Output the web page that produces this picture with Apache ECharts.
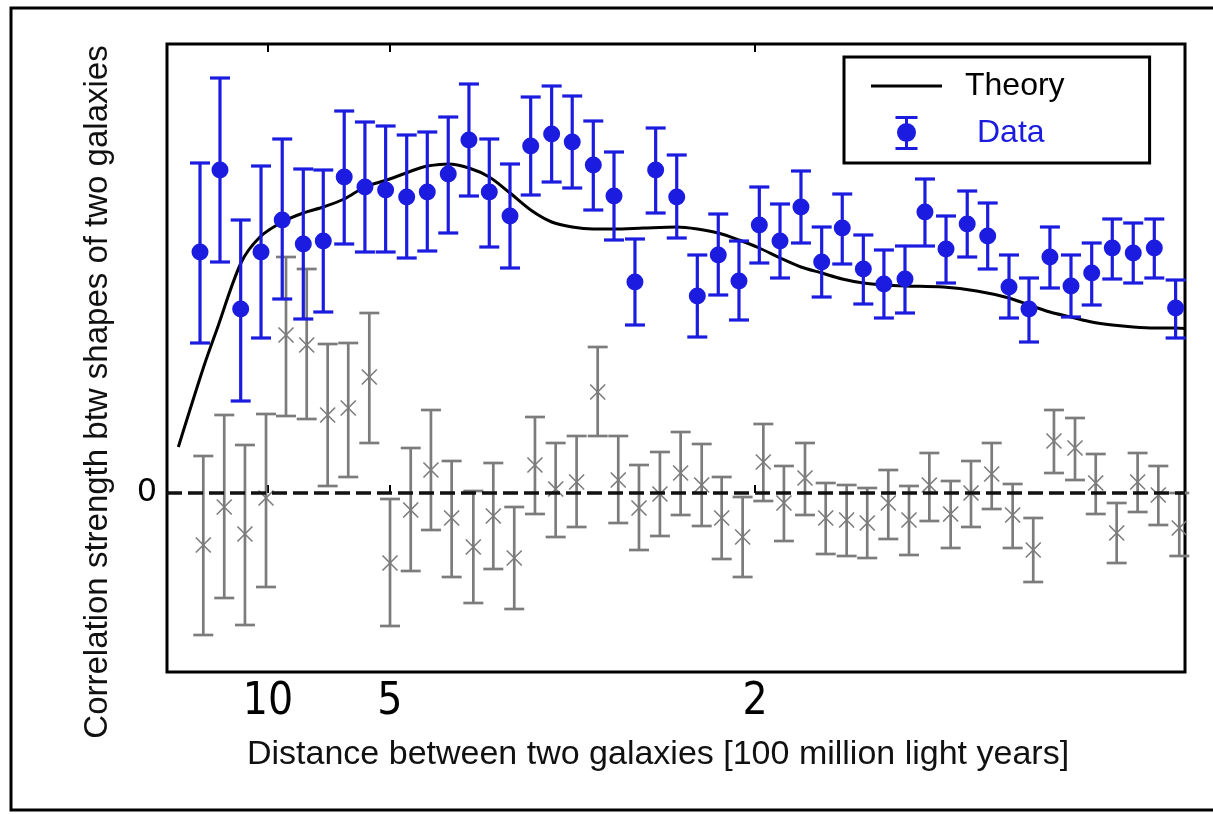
<!DOCTYPE html>
<html>
<head>
<meta charset="utf-8">
<script src="https://cdn.jsdelivr.net/npm/echarts@6/dist/echarts.min.js"></script>
<style>
html,body{margin:0;padding:0;background:#fff;}
#chart{width:1213px;height:814px;}
</style>
</head>
<body>
<div id="chart"></div>
<script>
// x values are inverse distance (1 / [100 million light years]); the axis is linear in 1/d
const dataX = [0.0442,0.0606,0.0776,0.0943,0.1117,0.1290,0.1454,0.1626,0.1796,0.1966,0.2139,0.2308,0.2480,0.2650,0.2817,0.2987,0.3157,0.3329,0.3498,0.3671,0.3841,0.4013,0.4183,0.4356,0.4525,0.4697,0.4867,0.5034,0.5204,0.5376,0.5546,0.5715,0.5888,0.6057,0.6230,0.6394,0.6567,0.6741,0.6909,0.7084,0.7248,0.7420,0.7593,0.7763,0.7932,0.8104,0.8277,0.8452];
const dataY = [2.41,3.23,1.84,2.41,2.73,2.49,2.52,3.16,3.06,3.03,2.96,3.01,3.19,3.53,3.01,2.77,3.47,3.59,3.51,3.28,2.97,2.11,3.23,2.96,1.97,2.38,2.12,2.68,2.52,2.86,2.31,2.65,2.24,2.09,2.14,2.81,2.44,2.69,2.57,2.06,1.84,2.36,2.07,2.20,2.45,2.40,2.45,1.85];
const dataHigh = [3.30,4.15,2.73,3.27,3.54,3.24,3.23,3.82,3.71,3.67,3.58,3.61,3.76,4.09,3.54,3.29,3.96,4.07,3.97,3.72,3.41,2.54,3.65,3.38,2.38,2.79,2.52,3.06,2.89,3.22,2.66,2.99,2.58,2.43,2.47,3.14,2.77,3.02,2.90,2.38,2.15,2.66,2.38,2.50,2.74,2.70,2.74,2.13];
const dataLow = [1.50,2.31,0.92,1.55,1.94,1.74,1.81,2.49,2.41,2.41,2.35,2.42,2.60,2.97,2.46,2.25,2.98,3.11,3.05,2.83,2.53,1.68,2.80,2.55,1.56,1.98,1.73,2.30,2.15,2.50,1.96,2.29,1.89,1.75,1.80,2.47,2.10,2.36,2.24,1.75,1.51,2.05,1.76,1.88,2.14,2.10,2.15,1.55];

const nullX = [0.0469,0.0641,0.0811,0.0984,0.1148,0.1318,0.1490,0.1659,0.1832,0.2002,0.2172,0.2338,0.2508,0.2686,0.2850,0.3022,0.3192,0.3362,0.3534,0.3707,0.3876,0.4046,0.4218,0.4388,0.4561,0.4725,0.4897,0.5067,0.5236,0.5409,0.5579,0.5751,0.5920,0.6093,0.6263,0.6430,0.6605,0.6772,0.6942,0.7114,0.7283,0.7453,0.7626,0.7796,0.7968,0.8140,0.8310,0.8482];
const nullY = [-0.52,-0.14,-0.41,-0.05,1.58,1.48,0.78,0.85,1.16,-0.70,-0.17,0.23,-0.25,-0.54,-0.23,-0.65,0.28,0.04,0.11,1.01,0.13,-0.15,-0.01,0.20,0.08,-0.25,-0.44,0.31,-0.10,0.15,-0.25,-0.27,-0.30,-0.10,-0.27,0.08,-0.21,0.00,0.19,-0.22,-0.57,0.52,0.45,0.10,-0.40,0.11,-0.02,-0.35];
const nullHigh = [0.37,0.78,0.48,0.79,2.36,2.24,1.49,1.50,1.80,-0.06,0.45,0.83,0.32,0.02,0.30,-0.14,0.76,0.50,0.57,1.46,0.57,0.28,0.41,0.61,0.49,0.16,-0.04,0.69,0.27,0.50,0.10,0.08,0.05,0.23,0.07,0.40,0.12,0.32,0.50,0.09,-0.25,0.83,0.75,0.39,-0.10,0.40,0.27,0.00];
const nullLow = [-1.42,-1.05,-1.32,-0.94,0.77,0.74,0.07,0.16,0.50,-1.33,-0.78,-0.37,-0.84,-1.10,-0.76,-1.16,-0.21,-0.44,-0.34,0.57,-0.30,-0.57,-0.43,-0.22,-0.33,-0.66,-0.84,-0.08,-0.48,-0.22,-0.61,-0.63,-0.65,-0.46,-0.62,-0.28,-0.55,-0.34,-0.16,-0.55,-0.89,0.20,0.13,-0.21,-0.70,-0.19,-0.32,-0.63];

const theoryX = [0.0264,0.0469,0.0579,0.0778,0.0934,0.1117,0.1290,0.1454,0.1626,0.1796,0.1975,0.2248,0.2308,0.2480,0.2650,0.2817,0.2987,0.3157,0.3329,0.3498,0.3671,0.3841,0.4081,0.4356,0.4525,0.4697,0.4867,0.5034,0.5204,0.5376,0.5546,0.5715,0.5888,0.6057,0.6230,0.6544,0.6819,0.7084,0.7248,0.7420,0.7593,0.7763,0.7932,0.8104,0.8277,0.8452,0.8529];
const theoryY = [0.46,1.25,1.63,2.30,2.56,2.71,2.80,2.86,2.94,3.06,3.13,3.25,3.27,3.29,3.25,3.16,3.00,2.83,2.71,2.66,2.64,2.64,2.65,2.66,2.64,2.60,2.53,2.45,2.35,2.26,2.20,2.14,2.10,2.08,2.07,2.06,2.02,1.95,1.88,1.81,1.76,1.71,1.68,1.66,1.65,1.65,1.645];

// distance tick labels (100 million light years) placed at 1/d
const distanceTicks = [10, 5, 2];
const yTicks = [0];

const BLUE = '#1c1ce0';
const GRAY = '#7c7c7c';

const chart = echarts.init(document.getElementById('chart'), null, {renderer: 'canvas'});

const tickPos = distanceTicks.map(d => 1 / d);

function errRender(color, lw, capHalf, marker) {
  return function (params, api) {
    const x = api.value(0), y = api.value(1), hi = api.value(2), lo = api.value(3);
    const p = api.coord([x, y]);
    const ph = api.coord([x, hi]);
    const pl = api.coord([x, lo]);
    const st = {stroke: color, lineWidth: lw};
    const ch = [
      {type: 'line', shape: {x1: p[0], y1: ph[1], x2: p[0], y2: pl[1]}, style: st},
      {type: 'line', shape: {x1: p[0] - capHalf, y1: ph[1], x2: p[0] + capHalf, y2: ph[1]}, style: st},
      {type: 'line', shape: {x1: p[0] - capHalf, y1: pl[1], x2: p[0] + capHalf, y2: pl[1]}, style: st}
    ];
    if (marker === 'dot') {
      ch.push({type: 'circle', shape: {cx: p[0], cy: p[1], r: 8.5}, style: {fill: color}});
    } else {
      const s = 7.5;
      const xs = {stroke: color, lineWidth: 1.6};
      ch.push({type: 'line', shape: {x1: p[0] - s, y1: p[1] - s, x2: p[0] + s, y2: p[1] + s}, style: xs});
      ch.push({type: 'line', shape: {x1: p[0] - s, y1: p[1] + s, x2: p[0] + s, y2: p[1] - s}, style: xs});
    }
    return {type: 'group', children: ch};
  };
}

const dataIcon = 'path://M0,0H22V3H12.5V31H22V34H0V31H9.5V3H0Z M11,7 A9.5,9.5 0 1,1 11,26 A9.5,9.5 0 1,1 11,7 Z';
const lineIcon = 'path://M0,0H71V3H0Z';

const option = {
  animation: false,
  backgroundColor: '#ffffff',
  grid: {left: 167, right: 28, top: 44, bottom: 142, show: true, borderColor: '#000', borderWidth: 3, backgroundColor: 'transparent'},
  xAxis: [
    {
      type: 'value', min: 0.0171, max: 0.8529, position: 'bottom',
      axisLine: {show: false}, splitLine: {show: false},
      axisTick: {show: true, inside: true, length: 8, customValues: tickPos, lineStyle: {color: '#000', width: 2}},
      axisLabel: {
        show: true, customValues: tickPos, margin: 9,
        formatter: v => String(Math.round(1 / v)),
        fontFamily: '"Liberation Sans Narrow", "DejaVu Sans Condensed", "Liberation Sans", sans-serif',
        fontSize: 44, color: '#000'
      }
    },
    {
      type: 'value', min: 0.0171, max: 0.8529, position: 'top',
      axisLine: {show: false}, splitLine: {show: false},
      axisTick: {show: true, inside: true, length: 8, customValues: tickPos, lineStyle: {color: '#000', width: 2}},
      axisLabel: {show: false}
    }
  ],
  yAxis: {
    type: 'value', min: -1.79, max: 4.49,
    axisLine: {show: false}, splitLine: {show: false},
    axisTick: {show: true, inside: true, length: 8, customValues: yTicks, lineStyle: {color: '#000', width: 2}},
    axisLabel: {
      show: true, customValues: yTicks, margin: 10,
      fontFamily: '"DejaVu Sans", sans-serif', fontSize: 32, color: '#000'
    }
  },
  legend: {
    orient: 'vertical', left: 844, top: 57,
    padding: [12, 85, 13, 27],
    itemWidth: 71, itemHeight: 34, itemGap: 13,
    borderColor: '#000', borderWidth: 3, backgroundColor: '#fff',
    textStyle: {fontFamily: '"Liberation Sans", Arial, sans-serif', fontSize: 32, lineHeight: 34, color: '#000'},
    data: [
      {name: 'Theory', icon: lineIcon, itemStyle: {color: '#000'}, textStyle: {padding: [0, 0, 0, 18], color: '#000'}},
      {name: 'Data', icon: dataIcon, itemStyle: {color: BLUE}, textStyle: {padding: [0, 0, 0, 30], color: BLUE}}
    ]
  },
  graphic: [
    {type: 'rect', silent: true, z: 100, shape: {x: 11, y: 8, width: 1240, height: 802},
      style: {fill: 'none', stroke: '#000', lineWidth: 3}},
    {type: 'text', silent: true, left: 247, top: 738,
      style: {text: 'Distance between two galaxies [100 million light years]', fill: '#111',
        font: '34px "Liberation Sans", Arial, sans-serif'}},
    {type: 'text', silent: true, x: 98, y: 392, rotation: Math.PI / 2,
      style: {text: 'Correlation strength btw shapes of two galaxies', fill: '#111',
        font: '33px "Liberation Sans", Arial, sans-serif', align: 'center', verticalAlign: 'middle'}}
  ],
  series: [
    {
      name: 'Null test', type: 'custom', z: 3,
      renderItem: errRender(GRAY, 2.7, 10, 'x'),
      encode: {x: 0, y: [1, 2, 3]},
      data: nullX.map((x, i) => [x, nullY[i], nullHigh[i], nullLow[i]]),
      markLine: {
        silent: true, symbol: 'none', label: {show: false}, z: 4,
        lineStyle: {color: '#111', width: 3.5, type: [15, 6]},
        data: [{yAxis: 0}]
      }
    },
    {
      name: 'Theory', type: 'line', z: 5,
      showSymbol: false, symbol: 'none', smooth: 0.3,
      lineStyle: {color: '#000', width: 3},
      itemStyle: {color: '#000'},
      data: theoryX.map((x, i) => [x, theoryY[i]])
    },
    {
      name: 'Data', type: 'custom', z: 6,
      itemStyle: {color: BLUE},
      renderItem: errRender(BLUE, 3.2, 10, 'dot'),
      encode: {x: 0, y: [1, 2, 3]},
      data: dataX.map((x, i) => [x, dataY[i], dataHigh[i], dataLow[i]])
    }
  ]
};
chart.setOption(option);
</script>
</body>
</html>
